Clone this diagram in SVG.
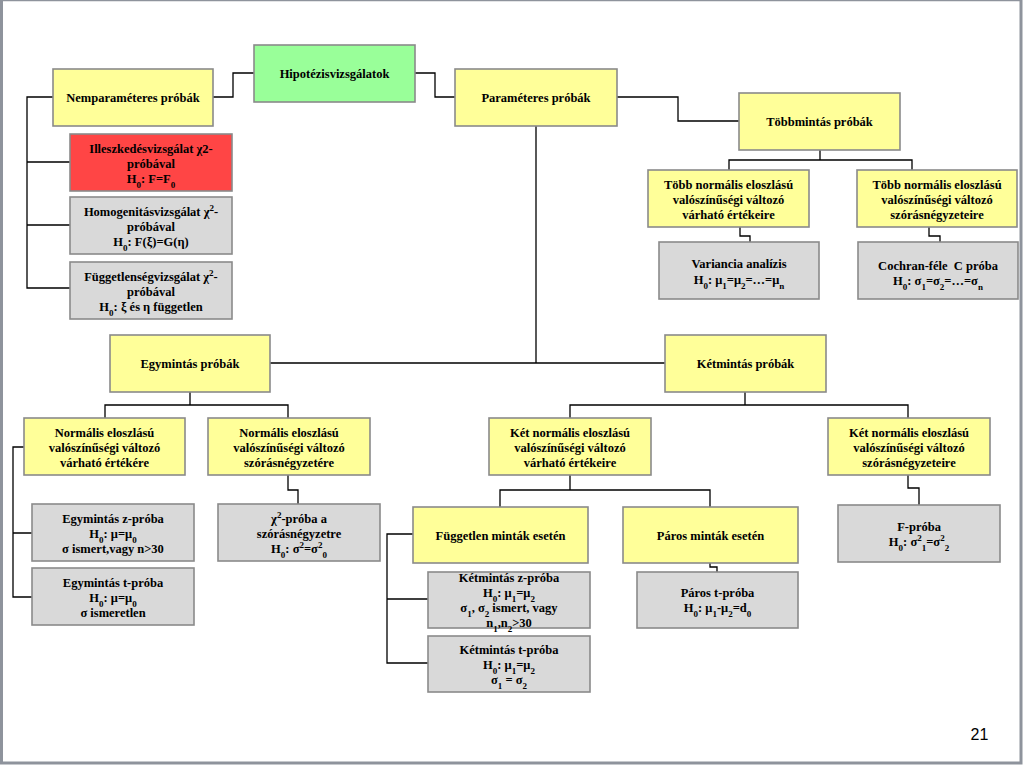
<svg xmlns="http://www.w3.org/2000/svg" width="1024" height="768" viewBox="0 0 1024 768">
<style>
.bx{stroke:#8a8a8a;stroke-width:1.6}
.y{fill:#FFFF99}.g{fill:#99FF99}.r{fill:#FF4545}.gr{fill:#D9D9D9}
text{font-family:"Liberation Serif","Times New Roman",serif;font-weight:bold;font-size:12.5px;fill:#000;text-anchor:middle}
.s{font-size:9px}
.cn path{fill:none;stroke:#000;stroke-width:1.3}
.pg{font-family:"Liberation Sans",Arial,sans-serif;font-weight:normal;font-size:16px}
</style>
<rect x="0" y="0" width="1024" height="768" fill="#fff"/>
<path d="M1.5,0 V763 H1021 V0" fill="none" stroke="#8e939c" stroke-width="3"/>
<path d="M0,0.5 H1022" stroke="#8e939c" stroke-width="1.5"/>
<g class="cn" id="connectors">
<path d="M213,97 H233 V73 H254"/>
<path d="M415,73 H435 V97 H455"/>
<path d="M617,97 H678 V121 H739"/>
<path d="M53,97 H27 V288 H70 M27,162 H70 M27,225 H70"/>
<path d="M820,150 V160 M729,170 V160 H912 V170"/>
<path d="M740,227 V236 H750 V242"/>
<path d="M929,227 V236 H940 V242"/>
<path d="M536,126 V363 M270,363 H665"/>
<path d="M190,392 V405 M105,418 V405 H288 V418"/>
<path d="M24,447 H13 V597 H32 M13,533 H32"/>
<path d="M288,475 V490 H298 V504"/>
<path d="M745,392 V405 M570,418 V405 H908 V418"/>
<path d="M570,475 V490 M500,507 V490 H710 V507"/>
<path d="M710,563 V567 H717 V572"/>
<path d="M413,534 H387 V663 H428 M387,599 H428"/>
<path d="M908,475 V488 H919 V505"/>
</g>
<g id="hip"><rect class="bx g" x="254" y="45" width="161" height="57"/><text x="334.5" y="77.5">Hipotézisvizsgálatok</text></g>
<g id="nem"><rect class="bx y" x="53" y="69" width="160" height="57"/><text x="133" y="101.5">Nemparaméteres próbák</text></g>
<g id="ill"><rect class="bx r" x="70" y="134" width="162" height="57"/><text x="151" y="152.5">Illeszkedésvizsgálat χ2-<tspan x="151" dy="15">próbával</tspan><tspan x="151" dy="15">H<tspan class="s" baseline-shift="sub">0</tspan>: F=F<tspan class="s" baseline-shift="sub">0</tspan></tspan></text></g>
<g id="hom"><rect class="bx gr" x="70" y="197" width="162" height="57"/><text x="151" y="215.5">Homogenitásvizsgálat χ<tspan class="s" baseline-shift="super">2</tspan>-<tspan x="151" dy="15">próbával</tspan><tspan x="151" dy="15">H<tspan class="s" baseline-shift="sub">0</tspan>: F(ξ)=G(η)</tspan></text></g>
<g id="fug"><rect class="bx gr" x="70" y="262" width="162" height="57"/><text x="151" y="280.5">Függetlenségvizsgálat χ<tspan class="s" baseline-shift="super">2</tspan>-<tspan x="151" dy="15">próbával</tspan><tspan x="151" dy="15">H<tspan class="s" baseline-shift="sub">0</tspan>: ξ és η független</tspan></text></g>
<g id="par"><rect class="bx y" x="455" y="69" width="162" height="57"/><text x="536" y="101.5">Paraméteres próbák</text></g>
<g id="tob"><rect class="bx y" x="739" y="93" width="161" height="57"/><text x="819.5" y="125.5">Többmintás próbák</text></g>
<g id="tvar"><rect class="bx y" x="648" y="170" width="161" height="57"/><text x="728.5" y="188.5">Több normális eloszlású<tspan x="728.5" dy="15">valószínűségi változó</tspan><tspan x="728.5" dy="15">várható értékeire</tspan></text></g>
<g id="tszo"><rect class="bx y" x="857" y="170" width="160" height="57"/><text x="937" y="188.5">Több normális eloszlású<tspan x="937" dy="15">valószínűségi változó</tspan><tspan x="937" dy="15">szórásnégyzeteire</tspan></text></g>
<g id="vari"><rect class="bx gr" x="659" y="242" width="160" height="57"/><text x="739" y="267.5">Variancia analízis<tspan x="739" dy="16">H<tspan class="s" baseline-shift="sub">0</tspan>: μ<tspan class="s" baseline-shift="sub">1</tspan>=μ<tspan class="s" baseline-shift="sub">2</tspan>=…=μ<tspan class="s" baseline-shift="sub">n</tspan></tspan></text></g>
<g id="coch"><rect class="bx gr" x="858" y="242" width="160" height="57"/><text x="938" y="270" xml:space="preserve">Cochran-féle  C próba<tspan x="938" dy="15">H<tspan class="s" baseline-shift="sub">0</tspan>: σ<tspan class="s" baseline-shift="sub">1</tspan>=σ<tspan class="s" baseline-shift="sub">2</tspan>=…=σ<tspan class="s" baseline-shift="sub">n</tspan></tspan></text></g>
<g id="egy"><rect class="bx y" x="110" y="335" width="160" height="57"/><text x="190" y="367.5">Egymintás próbák</text></g>
<g id="ket"><rect class="bx y" x="665" y="335" width="161" height="57"/><text x="745.5" y="367.5">Kétmintás próbák</text></g>
<g id="nvar"><rect class="bx y" x="24" y="418" width="161" height="57"/><text x="104.5" y="436.5">Normális eloszlású<tspan x="104.5" dy="15">valószínűségi változó</tspan><tspan x="104.5" dy="15">várható értékére</tspan></text></g>
<g id="nszo"><rect class="bx y" x="208" y="418" width="162" height="57"/><text x="289" y="436.5">Normális eloszlású<tspan x="289" dy="15">valószínűségi változó</tspan><tspan x="289" dy="15">szórásnégyzetére</tspan></text></g>
<g id="ez"><rect class="bx gr" x="32" y="504" width="162" height="57"/><text x="113" y="522.5">Egymintás z-próba<tspan x="113" dy="15">H<tspan class="s" baseline-shift="sub">0</tspan>: μ=μ<tspan class="s" baseline-shift="sub">0</tspan></tspan><tspan x="113" dy="15">σ ismert,vagy n&gt;30</tspan></text></g>
<g id="et"><rect class="bx gr" x="32" y="568" width="162" height="57"/><text x="113" y="586.5">Egymintás t-próba<tspan x="113" dy="15">H<tspan class="s" baseline-shift="sub">0</tspan>: μ=μ<tspan class="s" baseline-shift="sub">0</tspan></tspan><tspan x="113" dy="15">σ ismeretlen</tspan></text></g>
<g id="chi"><rect class="bx gr" x="218" y="504" width="162" height="57"/><text x="299" y="522.5">χ<tspan class="s" baseline-shift="super">2</tspan>-próba a<tspan x="299" dy="15">szórásnégyzetre</tspan><tspan x="299" dy="15">H<tspan class="s" baseline-shift="sub">0</tspan>: σ<tspan class="s" baseline-shift="super">2</tspan>=σ<tspan class="s" baseline-shift="super">2</tspan><tspan class="s" baseline-shift="sub">0</tspan></tspan></text></g>
<g id="kvar"><rect class="bx y" x="489" y="418" width="162" height="57"/><text x="570" y="436.5">Két normális eloszlású<tspan x="570" dy="15">valószínűségi változó</tspan><tspan x="570" dy="15">várható értékeire</tspan></text></g>
<g id="kszo"><rect class="bx y" x="828" y="418" width="162" height="57"/><text x="909" y="436.5">Két normális eloszlású<tspan x="909" dy="15">valószínűségi változó</tspan><tspan x="909" dy="15">szórásnégyzeteire</tspan></text></g>
<g id="fgm"><rect class="bx y" x="413" y="507" width="175" height="56"/><text x="500.5" y="539.5">Független minták esetén</text></g>
<g id="pam"><rect class="bx y" x="623" y="507" width="175" height="56"/><text x="710.5" y="539.5">Páros minták esetén</text></g>
<g id="kz"><rect class="bx gr" x="428" y="572" width="162" height="56"/><text x="509" y="581.5">Kétmintás z-próba<tspan x="509" dy="15">H<tspan class="s" baseline-shift="sub">0</tspan>: μ<tspan class="s" baseline-shift="sub">1</tspan>=μ<tspan class="s" baseline-shift="sub">2</tspan></tspan><tspan x="509" dy="15">σ<tspan class="s" baseline-shift="sub">1</tspan>, σ<tspan class="s" baseline-shift="sub">2</tspan> ismert, vagy</tspan><tspan x="509" dy="15">n<tspan class="s" baseline-shift="sub">1</tspan>,n<tspan class="s" baseline-shift="sub">2</tspan>&gt;30</tspan></text></g>
<g id="kt"><rect class="bx gr" x="428" y="636" width="162" height="56"/><text x="509" y="654">Kétmintás t-próba<tspan x="509" dy="15">H<tspan class="s" baseline-shift="sub">0</tspan>: μ<tspan class="s" baseline-shift="sub">1</tspan>=μ<tspan class="s" baseline-shift="sub">2</tspan></tspan><tspan x="509" dy="15">σ<tspan class="s" baseline-shift="sub">1</tspan> = σ<tspan class="s" baseline-shift="sub">2</tspan></tspan></text></g>
<g id="pt"><rect class="bx gr" x="637" y="572" width="161" height="56"/><text x="717.5" y="597">Páros t-próba<tspan x="717.5" dy="15">H<tspan class="s" baseline-shift="sub">0</tspan>: μ<tspan class="s" baseline-shift="sub">1</tspan>-μ<tspan class="s" baseline-shift="sub">2</tspan>=d<tspan class="s" baseline-shift="sub">0</tspan></tspan></text></g>
<g id="fp"><rect class="bx gr" x="838" y="505" width="162" height="57"/><text x="919" y="530.5">F-próba<tspan x="919" dy="15">H<tspan class="s" baseline-shift="sub">0</tspan>: σ<tspan class="s" baseline-shift="super">2</tspan><tspan class="s" baseline-shift="sub">1</tspan>=σ<tspan class="s" baseline-shift="super">2</tspan><tspan class="s" baseline-shift="sub">2</tspan></tspan></text></g>
<text class="pg" x="979.5" y="739.5">21</text>
</svg>
